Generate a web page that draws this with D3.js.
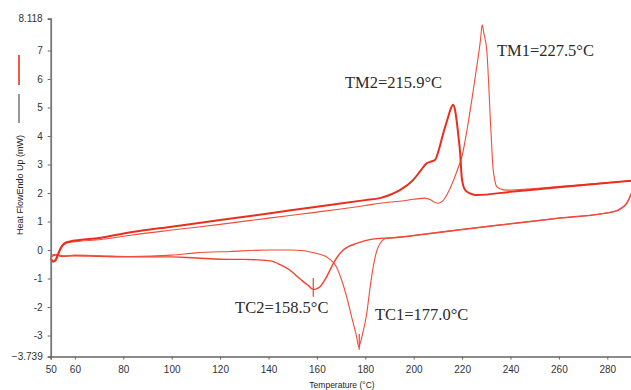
<!DOCTYPE html>
<html>
<head>
<meta charset="utf-8">
<script src="https://cdn.jsdelivr.net/npm/d3@7"></script>
<style>
  body { margin: 0; background: #fff; }
  svg { display: block; }
  .tick text { font-family: "Liberation Sans", Arial, sans-serif; font-size: 10px; fill: #333; }
  .ann { font-family: "Liberation Serif", "Times New Roman", serif; font-size: 16.5px; fill: #2a2a2a; }
</style>
</head>
<body>
<svg id="chart" width="631" height="390"></svg>
<script>
// heating run 2 (TM2 peak)
var heat2T = [50, 51, 52, 53, 54, 55, 56, 58, 62, 70, 83, 100, 120, 140, 160, 180, 186, 190, 194.3, 199.8, 203, 205.3, 207, 208.8, 210.5, 212.2, 214, 215.3, 216.2, 217, 217.8, 218.6, 219.2, 219.8, 220.5, 221.5, 223.5, 226, 240, 260, 290];
var heat2V = [-0.28, -0.4, -0.35, -0.15, 0.05, 0.18, 0.25, 0.3, 0.35, 0.42, 0.62, 0.82, 1.05, 1.28, 1.52, 1.75, 1.82, 1.93, 2.1, 2.46, 2.8, 3.04, 3.1, 3.16, 3.55, 4.09, 4.6, 4.95, 5.1, 4.95, 4.5, 3.9, 3.4, 2.6, 2.25, 2.08, 1.98, 1.93, 2.04, 2.2, 2.43];

// heating run 1 (TM1 peak)
var heat1T = [50, 51, 52, 53, 54, 55, 56, 58, 62, 70, 83, 100, 120, 140, 160, 180, 186, 195, 200, 204.6, 207, 208.5, 210.2, 212, 214, 216, 218, 220, 222, 224, 226, 227.6, 228.3, 229, 230.2, 231, 231.6, 232.2, 232.7, 233.5, 234.3, 236, 238.4, 250, 270, 290];
var heat1V = [-0.3, -0.42, -0.38, -0.2, 0.0, 0.14, 0.22, 0.27, 0.31, 0.36, 0.52, 0.7, 0.9, 1.12, 1.33, 1.56, 1.64, 1.72, 1.78, 1.82, 1.76, 1.68, 1.64, 1.72, 1.98, 2.35, 2.8, 3.3, 4.2, 5.26, 6.4, 7.37, 7.9, 7.6, 7.0, 5.8, 4.7, 3.7, 2.95, 2.45, 2.22, 2.14, 2.1, 2.16, 2.3, 2.43];

// cooling run 1 (TC1 dip)
var cool1T = [50, 52, 55, 60, 70, 83, 100, 110, 124, 140, 150, 160, 165, 168, 170, 172.3, 174.5, 176.4, 177.3, 177.8, 179, 180.6, 182, 183.3, 184.5, 186.1, 188.8, 195, 206.7, 220, 240, 260, 282.4, 286, 288, 289, 290];
var cool1V = [-0.2, -0.15, -0.2, -0.18, -0.2, -0.23, -0.18, -0.1, -0.05, 0.0, 0.0, -0.12, -0.3, -0.58, -1.0, -1.64, -2.4, -3.04, -3.4, -3.3, -2.9, -2.22, -1.3, -0.58, -0.1, 0.23, 0.41, 0.46, 0.58, 0.72, 0.92, 1.12, 1.34, 1.48, 1.64, 1.8, 1.99];

// cooling run 2 (TC2 dip)
var cool2T = [50, 52, 55, 60, 70, 83, 100, 110, 124, 130, 140.7, 145, 148.8, 151.5, 154.4, 156.5, 158.5, 159.5, 161.3, 164, 166.8, 168.8, 170.9, 173, 176.4, 180, 186, 190, 206.7, 220, 240, 260, 282.4, 286, 288, 289, 290];
var cool2V = [-0.25, -0.18, -0.22, -0.2, -0.22, -0.24, -0.24, -0.28, -0.33, -0.33, -0.38, -0.52, -0.7, -0.9, -1.11, -1.25, -1.38, -1.37, -1.29, -0.94, -0.47, -0.2, 0.0, 0.12, 0.23, 0.33, 0.41, 0.42, 0.58, 0.72, 0.92, 1.12, 1.34, 1.48, 1.64, 1.8, 1.99];

var xTicks = [50, 60, 80, 100, 120, 140, 160, 180, 200, 220, 240, 260, 280];
var yTicks = [-3.739, -3, -2, -1, 0, 1, 2, 3, 4, 5, 6, 7, 8.118];

var labels = [
  { text: "TM1=227.5°C", t: 234.4, v: 6.82 },
  { text: "TM2=215.9°C", t: 171.6, v: 5.7 },
  { text: "TC2=158.5°C", t: 126.2, v: -2.22 },
  { text: "TC1=177.0°C", t: 184, v: -2.46 }
];

var svg = d3.select("#chart");
var x = d3.scaleLinear().domain([50, 290]).range([50.7, 631.5]);
var y = d3.scaleLinear().domain([-3.739, 8.118]).range([356.6, 18.6]);

function zip(ts, vs) {
  return ts.map(function(t, i) { return [t, vs[i]]; });
}

var line = d3.line()
  .x(function(d) { return x(d[0]); })
  .y(function(d) { return y(d[1]); })
  .curve(d3.curveMonotoneX);

function drawCurve(ts, vs, color, w) {
  svg.append("path")
    .datum(zip(ts, vs))
    .attr("fill", "none")
    .attr("stroke", color)
    .attr("stroke-width", w)
    .attr("stroke-linejoin", "round")
    .attr("d", line);
}

drawCurve(cool2T, cool2V, "#f0412f", 1.4);
drawCurve(cool1T, cool1V, "#f24c3a", 1.1);
drawCurve(heat1T, heat1V, "#f24c3a", 1.1);
drawCurve(heat2T, heat2V, "#ea2e1c", 2);

// peak markers on the cooling dips
svg.append("line")
  .attr("x1", x(158.5)).attr("x2", x(158.5))
  .attr("y1", y(-0.98)).attr("y2", y(-1.64))
  .attr("stroke", "#f0412f").attr("stroke-width", 1.2);
svg.append("line")
  .attr("x1", x(177.5)).attr("x2", x(177.5))
  .attr("y1", y(-2.95)).attr("y2", y(-3.5))
  .attr("stroke", "#f0412f").attr("stroke-width", 1.2);

// axes
var yAxis = d3.axisLeft(y).tickValues(yTicks).tickSize(3).tickPadding(5)
  .tickFormat(function(d) { return Number.isInteger(d) ? d : d3.format(".3f")(d); });
var gy = svg.append("g").attr("transform", "translate(" + x(50) + ",0)").call(yAxis);

var xAxis = d3.axisBottom(x).tickValues(xTicks).tickSize(3).tickPadding(6).tickFormat(d3.format("d"));
var gx = svg.append("g").attr("transform", "translate(0," + y(-3.739) + ")").call(xAxis);

gy.select(".domain").attr("stroke", "#777").attr("stroke-width", 1.8);
gx.select(".domain").attr("stroke", "#666").attr("stroke-width", 1.5);
gy.selectAll(".tick line").attr("stroke", "#666");
gx.selectAll(".tick line").attr("stroke", "#666");

// axis titles
svg.append("text")
  .attr("x", 342).attr("y", 388)
  .attr("text-anchor", "middle")
  .style("font-family", "Liberation Sans, Arial, sans-serif")
  .style("font-size", "8.5px").style("fill", "#222")
  .text("Temperature (°C)");

svg.append("text")
  .attr("transform", "translate(23,185) rotate(-90)")
  .attr("text-anchor", "middle")
  .style("font-family", "Liberation Sans, Arial, sans-serif")
  .style("font-size", "9px").style("fill", "#222")
  .text("Heat FlowEndo Up (mW)");

// legend marks beside the y title
svg.append("line").attr("x1", 19).attr("x2", 19).attr("y1", 55).attr("y2", 85)
  .attr("stroke", "#f05a48").attr("stroke-width", 2);
svg.append("line").attr("x1", 19).attr("x2", 19).attr("y1", 94).attr("y2", 123)
  .attr("stroke", "#333").attr("stroke-width", 1);

// peak annotations
svg.selectAll("text.ann").data(labels).enter().append("text")
  .attr("class", "ann")
  .attr("x", function(d) { return x(d.t); })
  .attr("y", function(d) { return y(d.v); })
  .text(function(d) { return d.text; });
</script>
</body>
</html>
